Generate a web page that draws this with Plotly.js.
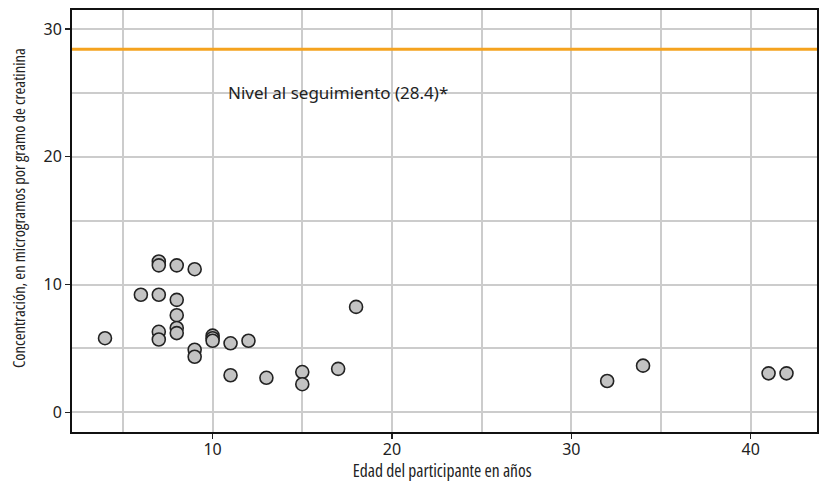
<!DOCTYPE html>
<html>
<head>
<meta charset="utf-8">
<script src="https://cdn.plot.ly/plotly-3.0.1.min.js"></script>
<style>html,body{margin:0;padding:0;background:#fff;}#chart{width:828px;height:482px;}</style>
</head>
<body>
<div id="chart"></div>
<script>
// Edad del participante (años)
var edades = [4, 7, 7, 8, 9, 6, 7, 8, 8, 8, 8, 7, 7, 10, 10, 10, 11, 12, 9, 9,
              11, 13, 15, 15, 17, 18, 32, 34, 41, 42];
// Concentración (µg/g creatinina)
var concentraciones = [5.8, 11.8, 11.5, 11.5, 11.2, 9.2, 9.2, 8.8, 7.6, 6.6, 6.2, 6.3, 5.7, 6.0, 5.8, 5.6, 5.4, 5.6, 4.9, 4.35,
                       2.9, 2.7, 3.15, 2.2, 3.4, 8.25, 2.45, 3.65, 3.05, 3.05];
var nivelSeguimiento = 28.4;
var etiquetaNivel = "Nivel al seguimiento (28.4)*";
var tituloX = "Edad del participante en años";
var tituloY = "Concentración, en microgramos por gramo de creatinina";
var tickX = [10, 20, 30, 40];
var tickY = [0, 10, 20, 30];

// choose a condensed rendering for the axis titles
var ctx = document.createElement('canvas').getContext('2d');
function widthOf(font, text) { ctx.font = font; return ctx.measureText(text).width; }
var families = ["'Noto Sans'", "'DejaVu Sans'", "'Open Sans'", "Roboto"];
var best = {fam: "'Noto Sans'", stretch: 'normal', w: widthOf("100px 'Noto Sans'", tituloX)};
families.forEach(function (f) {
  var wn = widthOf('100px ' + f + ', sans-serif', tituloX);
  var wc = widthOf('condensed 100px ' + f + ', sans-serif', tituloX);
  if (wc < best.w && wc < wn * 0.95) { best = {fam: f, stretch: 'condensed', w: wc}; }
});
var condensed = best.fam + ', sans-serif';
var prefix = best.stretch === 'normal' ? '' : best.stretch + ' ';
var titleSizeX = Math.max(11, Math.min(18, 100 * 179 / best.w));
var titleSizeY = Math.max(11, Math.min(18, 100 * 320 / widthOf(prefix + '100px ' + condensed, tituloY)));

var regular = "'Noto Sans', 'Open Sans', sans-serif";

var trace = {
  x: edades,
  y: concentraciones,
  type: 'scatter',
  mode: 'markers',
  marker: {size: 13, color: '#c3c3c3', line: {color: '#222', width: 1.6}},
  hoverinfo: 'x+y'
};

var axisCommon = {
  ticks: 'outside', ticklen: 5, tickwidth: 1.5, tickcolor: '#222',
  showgrid: true, gridcolor: '#cccccc', gridwidth: 2,
  minor: {dtick: 5, tick0: 0, showgrid: true, gridcolor: '#cccccc', gridwidth: 2, ticks: ''},
  zeroline: false,
  showline: true, linecolor: '#111', linewidth: 2, mirror: true,
  tickfont: {family: regular, size: 16, color: '#222'}
};

var layout = {
  width: 828, height: 482,
  margin: {l: 72, r: 11, t: 10, b: 50},
  paper_bgcolor: '#fff', plot_bgcolor: '#fff',
  showlegend: false,
  xaxis: Object.assign({}, axisCommon, {
    range: [2.16, 43.7],
    tickmode: 'array', tickvals: tickX, ticktext: tickX.map(String),
    ticklabelstandoff: -3
  }),
  yaxis: Object.assign({}, axisCommon, {
    range: [-1.54, 31.48],
    tickmode: 'array', tickvals: tickY, ticktext: tickY.map(String)
  }),
  shapes: [{
    type: 'line', xref: 'paper', x0: 0, x1: 1, yref: 'y', y0: nivelSeguimiento, y1: nivelSeguimiento,
    line: {color: '#f5a31f', width: 3}
  }],
  annotations: [{
    text: etiquetaNivel, xref: 'x', yref: 'y', x: 10.75, y: 25, xanchor: 'left', yanchor: 'middle',
    showarrow: false, font: {family: regular, size: 17, color: '#222'}
  }, {
    text: tituloX, xref: 'paper', yref: 'paper', x: 0.496, y: -0.091, xanchor: 'center', yanchor: 'middle',
    showarrow: false, borderpad: 0, font: {family: condensed, size: titleSizeX, color: '#222'}
  }, {
    text: tituloY, xref: 'paper', yref: 'paper', x: -0.071, y: 0.531, xanchor: 'center', yanchor: 'middle',
    textangle: -90, showarrow: false, borderpad: 0, font: {family: condensed, size: titleSizeY, color: '#222'}
  }]
};

Plotly.newPlot('chart', [trace], layout, {displayModeBar: false, staticPlot: true}).then(function () {
  if (best.stretch !== 'normal') {
    document.querySelectorAll('#chart .annotation').forEach(function (g) {
      var idx = g.getAttribute('data-index');
      if (idx === '1' || idx === '2') {
        g.querySelectorAll('text').forEach(function (t) { t.style.fontStretch = best.stretch; });
      }
    });
  }
});
</script>
</body>
</html>
